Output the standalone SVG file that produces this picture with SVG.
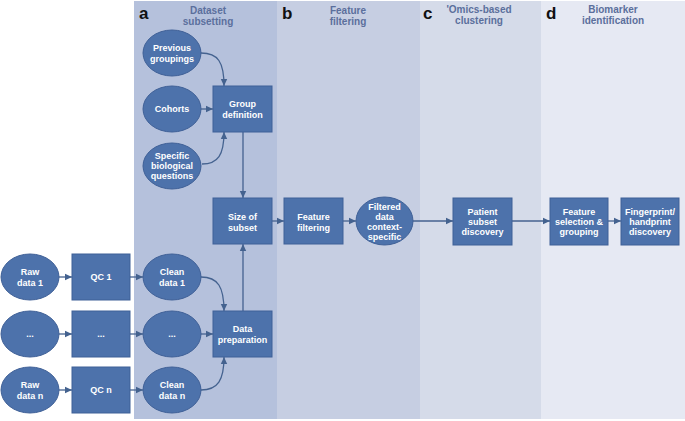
<svg xmlns="http://www.w3.org/2000/svg" width="685" height="421" viewBox="0 0 685 421">
<defs>
<marker id="ah" markerWidth="8" markerHeight="8" refX="7" refY="4" orient="auto" markerUnits="userSpaceOnUse">
<path d="M0,0.8 L7,4 L0,7.2 Z" fill="#44628f"/>
</marker>
<style>
.n{fill:#4d72ab;stroke:#3f6097;stroke-width:1}
.t{font-family:"Liberation Sans",Arial,sans-serif;font-weight:bold;font-size:9px;fill:#ffffff;text-anchor:middle}
.h{font-family:"Liberation Sans",Arial,sans-serif;font-weight:bold;font-size:10px;fill:#5b6f9c;text-anchor:middle}
.l{font-family:"Liberation Sans",Arial,sans-serif;font-weight:bold;font-size:17px;fill:#111111}
.c{fill:none;stroke:#44628f;stroke-width:1.3;marker-end:url(#ah)}
.cl{fill:none;stroke:#44628f;stroke-width:1.3}
</style>
</defs>
<rect width="685" height="421" fill="#ffffff"/>
<g id="panels">
<rect x="134" y="1" width="143" height="418" fill="#b5c1dc"/>
<rect x="277" y="1" width="143" height="418" fill="#c6cee2"/>
<rect x="420" y="1" width="121" height="418" fill="#d5dbe9"/>
<rect x="541" y="1" width="144" height="418" fill="#e6e9f3"/>
<text class="l" x="139" y="19">a</text>
<text class="h" x="208" y="14">Dataset</text>
<text class="h" x="208" y="25">subsetting</text>
<text class="l" x="282" y="19">b</text>
<text class="h" x="348" y="14">Feature</text>
<text class="h" x="348" y="25">filtering</text>
<text class="l" x="423" y="19">c</text>
<text class="h" x="479" y="13">'Omics-based</text>
<text class="h" x="479" y="24">clustering</text>
<text class="l" x="546" y="19">d</text>
<text class="h" x="613" y="13">Biomarker</text>
<text class="h" x="613" y="24">identification</text>
</g>
<g id="connectors">
<path class="c" d="M201,53 C218,53 224,62 224,86"/>
<path class="c" d="M201,109 L213,109"/>
<path class="c" d="M202,164 C218,164 224,155 224,132"/>
<path class="c" d="M243,132 L243,198"/>
<path class="c" d="M272,221 L284,221"/>
<path class="c" d="M343,221 L356,221"/>
<path class="c" d="M413,221 L453,221"/>
<path class="c" d="M512,221 L550,221"/>
<path class="c" d="M608,221 L621,221"/>
<path class="c" d="M59,277 L72,277"/>
<path class="c" d="M130,277 L143,277"/>
<path class="c" d="M59,334 L72,334"/>
<path class="c" d="M130,334 L143,334"/>
<path class="c" d="M59,390 L72,390"/>
<path class="c" d="M130,390 L143,390"/>
<path class="c" d="M201,277 C218,277 224,287 224,311"/>
<path class="c" d="M201,334 L213,334"/>
<path class="c" d="M201,390 C218,390 224,380 224,357"/>
<path class="c" d="M243,311 L243,244"/>
</g>
<g id="previous-groupings"><ellipse class="n" cx="172" cy="53" rx="29" ry="23"/><text class="t" x="172" y="51">Previous</text><text class="t" x="172" y="62">groupings</text></g>
<g id="cohorts"><ellipse class="n" cx="172" cy="109" rx="29" ry="23"/><text class="t" x="172" y="112">Cohorts</text></g>
<g id="specific-questions"><ellipse class="n" cx="172" cy="166" rx="29" ry="23"/><text class="t" x="172" y="159">Specific</text><text class="t" x="172" y="169">biological</text><text class="t" x="172" y="179">questions</text></g>
<g id="group-definition"><rect class="n" x="213" y="86" width="59" height="46"/><text class="t" x="242.5" y="107">Group</text><text class="t" x="242.5" y="118">definition</text></g>
<g id="size-of-subset"><rect class="n" x="213" y="198" width="59" height="46"/><text class="t" x="242.5" y="220">Size of</text><text class="t" x="242.5" y="231">subset</text></g>
<g id="feature-filtering"><rect class="n" x="284" y="198" width="59" height="46"/><text class="t" x="313.5" y="220">Feature</text><text class="t" x="313.5" y="231">filtering</text></g>
<g id="filtered-data"><ellipse class="n" cx="384.5" cy="221" rx="28.5" ry="24"/><text class="t" x="384.5" y="210">Filtered</text><text class="t" x="384.5" y="220">data</text><text class="t" x="384.5" y="230">context-</text><text class="t" x="384.5" y="240">specific</text></g>
<g id="patient-subset"><rect class="n" x="453" y="198" width="59" height="47"/><text class="t" x="482.5" y="215">Patient</text><text class="t" x="482.5" y="225">subset</text><text class="t" x="482.5" y="235">discovery</text></g>
<g id="feature-selection"><rect class="n" x="550" y="198" width="58" height="47"/><text class="t" x="579" y="215">Feature</text><text class="t" x="579" y="225">selection &amp;</text><text class="t" x="579" y="235">grouping</text></g>
<g id="fingerprint"><rect class="n" x="621" y="198" width="58" height="47"/><text class="t" x="650" y="215">Fingerprint/</text><text class="t" x="650" y="225">handprint</text><text class="t" x="650" y="235">discovery</text></g>
<g id="raw-data-1"><ellipse class="n" cx="30" cy="277" rx="29" ry="23"/><text class="t" x="30" y="275">Raw</text><text class="t" x="30" y="286">data 1</text></g>
<g id="qc-1"><rect class="n" x="72" y="254" width="58" height="46"/><text class="t" x="101" y="280">QC 1</text></g>
<g id="clean-data-1"><ellipse class="n" cx="172" cy="277" rx="29" ry="23"/><text class="t" x="172" y="275">Clean</text><text class="t" x="172" y="286">data 1</text></g>
<g id="raw-data-mid"><ellipse class="n" cx="30" cy="334" rx="29" ry="23"/><text class="t" x="30" y="337">...</text></g>
<g id="qc-mid"><rect class="n" x="72" y="311" width="58" height="46"/><text class="t" x="101" y="337">...</text></g>
<g id="clean-data-mid"><ellipse class="n" cx="172" cy="334" rx="29" ry="23"/><text class="t" x="172" y="337">...</text></g>
<g id="data-preparation"><rect class="n" x="213" y="311" width="59" height="46"/><text class="t" x="242.5" y="332">Data</text><text class="t" x="242.5" y="343">preparation</text></g>
<g id="raw-data-n"><ellipse class="n" cx="30" cy="390" rx="29" ry="23"/><text class="t" x="30" y="388">Raw</text><text class="t" x="30" y="399">data n</text></g>
<g id="qc-n"><rect class="n" x="72" y="367" width="58" height="46"/><text class="t" x="101" y="393">QC n</text></g>
<g id="clean-data-n"><ellipse class="n" cx="172" cy="390" rx="29" ry="23"/><text class="t" x="172" y="388">Clean</text><text class="t" x="172" y="399">data n</text></g>
</svg>
